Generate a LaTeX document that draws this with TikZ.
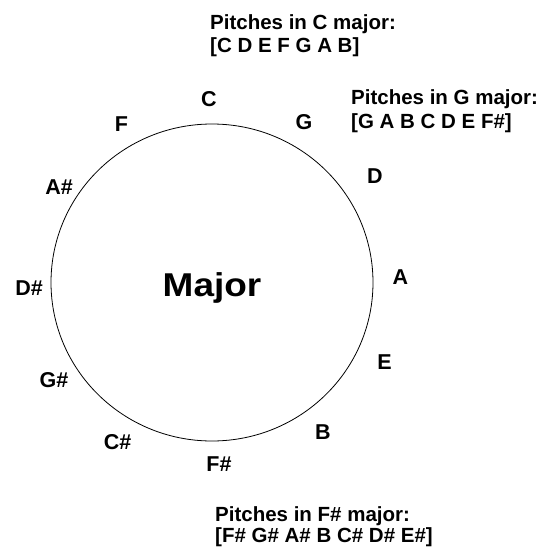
\documentclass[tikz,border=0pt]{standalone}
\usepackage{fontspec}
\setmainfont{Liberation Sans}
\begin{document}
\begin{tikzpicture}[x=1pt, y=-1pt, line join=round, line cap=round]
	\tikzset{
		note/.style={font=\fontsize{21.5}{24}\selectfont\bfseries, inner sep=0pt, anchor=base},
		pitches/.style={font=\fontsize{20.5}{#1}\selectfont\bfseries, align=left, anchor=north west, inner sep=0pt},
		pitches/.default=23.5,
		keyname/.style={font=\fontsize{33}{36}\selectfont\bfseries, inner sep=0pt, anchor=base, xscale=1.12}
	}
	\useasboundingbox (0,0) rectangle (541,549);
	\coordinate (O) at (212,282.5);
	\draw[line width=0.8pt] (O) circle[x radius=161pt, y radius=158.5pt];
	\node[keyname] (major) at (212,296) {Major};
	% pitch names round the circle
	\foreach \n/\t/\x/\y in {C/C/209/106.6, G/G/304/129, D/D/375/183, A/A/400.5/284,
		E/E/384.5/369, B/B/323/439, Fs/F\#/219/471, Cs/C\#/117.5/449,
		Gs/G\#/54/387.5, Ds/D\#/29/295, As/A\#/59/194.5, F/F/121.5/131.5}{
		\node[note] (n-\n) at (\x,\y) {\t};
	}
	% scales
	\node[pitches=23.4] (p-C) at (210,14.3) {Pitches in C major:\\{[}C D E F G A B]};
	\node[pitches=24] (p-G) at (351,89) {Pitches in G major:\\{[}G A B C D E F\#]};
	\node[pitches=21] (p-Fs) at (215,506) {Pitches in F\# major:\\{[}F\# G\# A\# B C\# D\# E\#]};
\end{tikzpicture}
\end{document}
